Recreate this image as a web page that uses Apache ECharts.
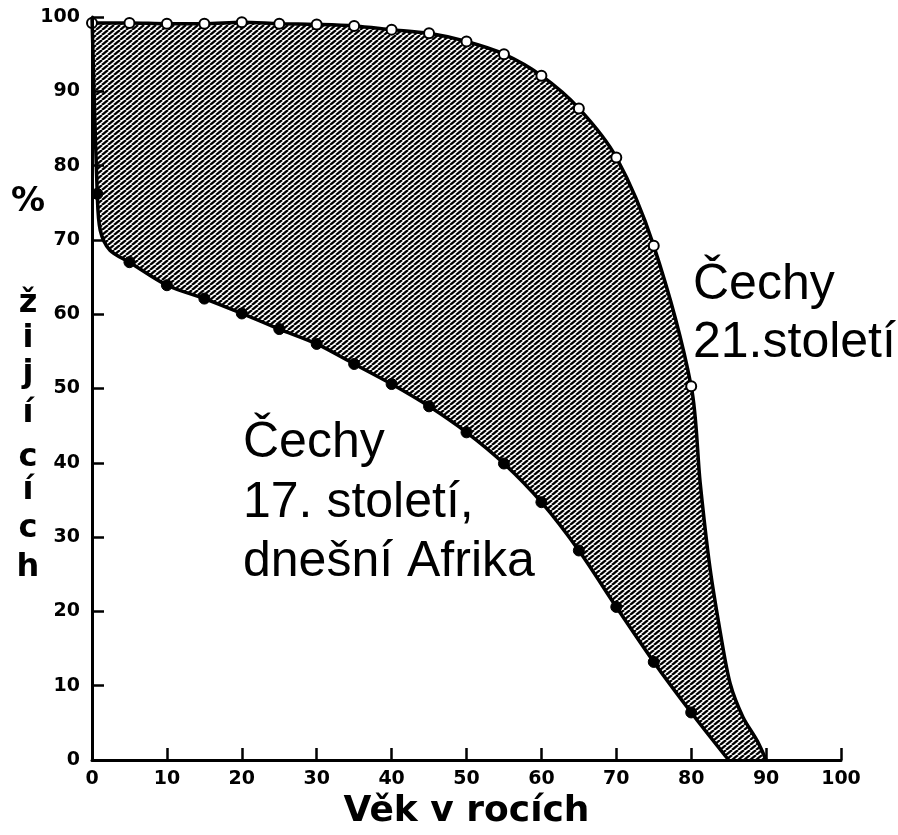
<!DOCTYPE html>
<html>
<head>
<meta charset="utf-8">
<script src="https://cdn.jsdelivr.net/npm/echarts@6/dist/echarts.min.js"></script>
<style>html,body{margin:0;padding:0;background:#fff;}#c{width:898px;height:835px;}</style>
</head>
<body>
<div id="c"></div>
<script>
// 21st century (open circles)
const modernAges = [0,5,10,15,20,25,30,35,40,45,50,55,60,65,70,75,80];
const modernVals = [99.2,99.2,99.1,99.1,99.3,99.1,99.0,98.8,98.3,97.8,96.7,95.0,92.1,87.7,81.1,69.2,50.3];
// traced curve beyond last marker (no marker)
const modernTailAges = [81.2,82.5,83.9,85.2,86.9,88.8,90];
const modernTailVals = [37.3,25.9,17.1,10.3,5.8,2.6,0];

// 17th century / Africa (filled dots)
const oldHeadAges = [0];            // curve start (no marker)
const oldHeadVals = [100];
const oldAges = [0.7,5,10,15,20,25,30,35,40,45,50,55,60,65,70,75,80];
const oldVals = [76.2,67.0,63.9,62.1,60.1,58.0,56.0,53.3,50.6,47.6,44.1,39.9,34.7,28.2,20.6,13.2,6.4];
const oldBendAges = [1.1,2.4];      // traced bend between first two markers (no marker)
const oldBendVals = [71.3,68.6];
const oldTailAges = [85];
const oldTailVals = [0];

const xTicks = [0,10,20,30,40,50,60,70,80,90,100];
const yTicks = [0,10,20,30,40,50,60,70,80,90,100];

const yNameLetters = ['ž','i','j','í','c','í','c','h'];

// hatch pattern
function makeHatch(){
  const w = 6, h = 5;
  const cv = document.createElement('canvas');
  cv.width = w; cv.height = h;
  const ctx = cv.getContext('2d');
  ctx.fillStyle = '#fff'; ctx.fillRect(0,0,w,h);
  ctx.strokeStyle = '#000'; ctx.lineWidth = 2.3;
  for (const dx of [-w, 0, w]) {
    ctx.beginPath(); ctx.moveTo(dx, h); ctx.lineTo(dx + w, 0); ctx.stroke();
  }
  return cv;
}

const modernData = modernAges.map((a,i)=>({value:[a, modernVals[i]]}))
  .concat(modernTailAges.map((a,i)=>({value:[a, modernTailVals[i]], symbol:'none'})));

const oldPts = [];
oldHeadAges.forEach((a,i)=>oldPts.push({value:[a, oldHeadVals[i]], symbol:'none'}));
oldAges.forEach((a,i)=>oldPts.push({value:[a, oldVals[i]]}));
oldBendAges.forEach((a,i)=>oldPts.push({value:[a, oldBendVals[i]], symbol:'none'}));
oldTailAges.forEach((a,i)=>oldPts.push({value:[a, oldTailVals[i]], symbol:'none'}));
oldPts.sort((p,q)=>p.value[0]-q.value[0]);

const chart = echarts.init(document.getElementById('c'));
const tickFont = {color:'#000', fontFamily:'DejaVu Sans', fontWeight:'bold', fontSize:19};

const graphics = [
  {type:'text', x:28, y:202, style:{text:'%', fill:'#000', font:'bold 34px "DejaVu Sans"', textAlign:'center', textVerticalAlign:'middle'}, z:20}
];
const letterBaselines = [288, 323, 358, 398, 442, 475, 513, 552];
yNameLetters.forEach((ch,i)=>{
  graphics.push({type:'text', x:28, y:letterBaselines[i], style:{text:ch, fill:'#000', font:'bold 32px "DejaVu Sans"', textAlign:'center', textVerticalAlign:'alphabetic'}, z:20});
});
const annFont = '50px "Liberation Sans", Arial, sans-serif';
[['Čechy',693,260],['21.století',693,318],['Čechy',243,418],['17. století,',243,478],['dnešní Afrika',243,537]].forEach(t=>{
  graphics.push({type:'text', x:t[1], y:t[2], style:{text:t[0], fill:'#000', font:annFont, textAlign:'left', textVerticalAlign:'alphabetic'}, z:20});
});

chart.setOption({
  animation:false,
  backgroundColor:'#fff',
  grid:{left:92, right:57, top:17, bottom:75, containLabel:false, outerBoundsMode:'none'},
  xAxis:{
    type:'value', min:0, max:100, interval:10, z:10,
    name:'Věk v rocích', nameLocation:'middle', nameGap:32,
    nameTextStyle:{color:'#000', fontFamily:'DejaVu Sans', fontWeight:'bold', fontSize:36},
    axisLine:{show:true, onZero:false, lineStyle:{color:'#000', width:3}},
    axisTick:{show:true, inside:true, length:12, lineStyle:{color:'#000', width:2.5}},
    axisLabel:Object.assign({margin:10, formatter:(v)=>xTicks.includes(v)?String(v):''}, tickFont),
    splitLine:{show:false}
  },
  yAxis:{
    type:'value', min:0, max:100, interval:10, z:10,
    axisLine:{show:true, onZero:false, lineStyle:{color:'#000', width:3}},
    axisTick:{show:true, inside:true, length:12, lineStyle:{color:'#000', width:2.5}},
    axisLabel:Object.assign({margin:12, formatter:(v)=>yTicks.includes(v)?String(v):''}, tickFont),
    splitLine:{show:false}
  },
  graphic:graphics,
  series:[
    {
      type:'line', name:'Čechy 21. století', data:modernData, z:2,
      smooth:0.3,
      symbol:'circle', symbolSize:10, showAllSymbol:true,
      itemStyle:{color:'#fff', borderColor:'#000', borderWidth:2},
      lineStyle:{color:'#000', width:3.5},
      areaStyle:{color:{image:makeHatch(), repeat:'repeat'}, opacity:1, origin:'start'}
    },
    {
      type:'line', name:'Čechy 17. století, dnešní Afrika', data:oldPts, z:3,
      smooth:0.3,
      symbol:'circle', symbolSize:11, showAllSymbol:true,
      itemStyle:{color:'#000', borderColor:'#000', borderWidth:1},
      lineStyle:{color:'#000', width:3.5},
      areaStyle:{color:'#fff', opacity:1, origin:'start'}
    }
  ]
});
</script>
</body>
</html>
